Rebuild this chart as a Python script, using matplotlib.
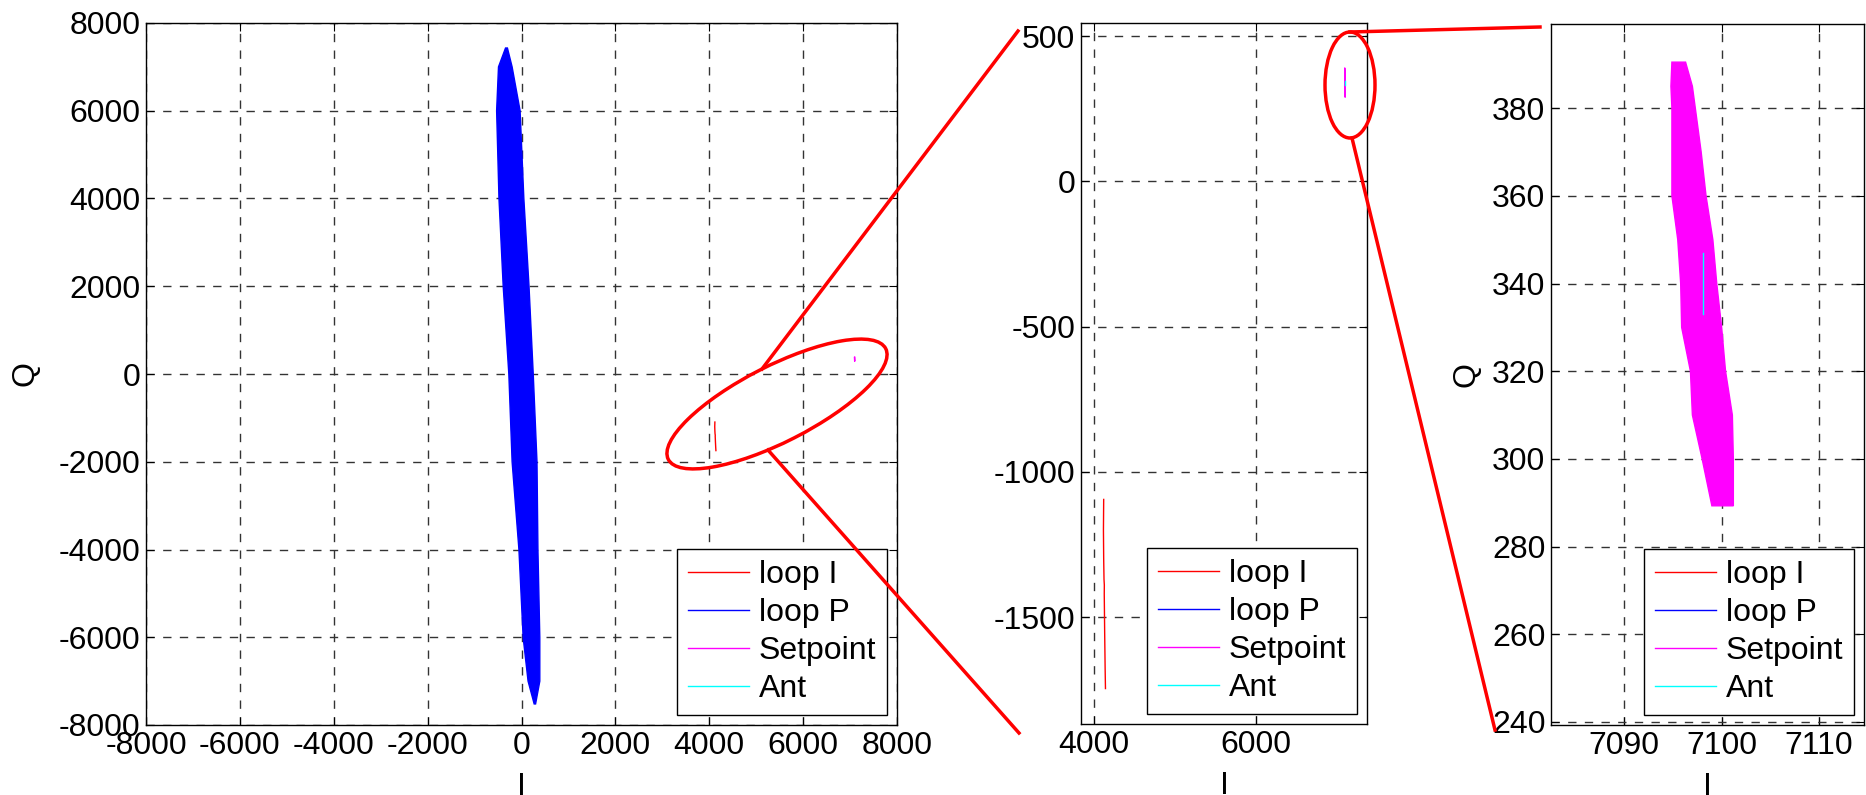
import matplotlib
matplotlib.use("Agg")
import matplotlib.pyplot as plt
from matplotlib.patches import Ellipse
from matplotlib.lines import Line2D

plt.rcParams['font.family'] = ['Liberation Sans', 'DejaVu Sans']
plt.rcParams['font.size'] = 23
plt.rcParams['axes.unicode_minus'] = False

# loop P cloud (blue) - outline
loopP_q = [7430, 7000, 6000, 4000, 2000, 0, -2000, -4000, -6000, -7000, -7520]
loopP_left = [-340, -490, -530, -480, -390, -270, -200, -55, 35, 140, 270]
loopP_right = [-300, -200, -30, 50, 160, 250, 330, 350, 390, 390, 300]

# Setpoint cloud (magenta) - outline
sp_q = [390.5, 385, 380, 370, 360, 350, 340, 330, 320, 310, 300, 289.3]
sp_left = [7094.9, 7094.8, 7094.9, 7094.9, 7094.9, 7095.5, 7095.8, 7095.9, 7096.8, 7097.0, 7098.0, 7099.0]
sp_right = [7096.3, 7097.0, 7097.3, 7097.9, 7098.4, 7099.1, 7099.5, 7100.0, 7100.4, 7101.1, 7101.2, 7101.2]

# loop I trace (red)
loopI_i = [4120, 4117, 4120, 4124, 4128, 4127, 4132, 4138, 4142]
loopI_q = [-1095, -1200, -1300, -1370, -1390, -1420, -1550, -1680, -1746]

# Ant (cyan)
ant_i = [7098.1, 7098.1]
ant_q = [333, 347]

names = ['loop I', 'loop P', 'Setpoint', 'Ant']
colors = ['red', 'blue', 'magenta', 'cyan']

W, H = 1866, 795
fig = plt.figure(figsize=(W / 100, H / 100), dpi=100)


def add_axes(l, r, t, b):
    return fig.add_axes([l / W, 1 - b / H, (r - l) / W, (b - t) / H])


def draw(ax):
    ax.fill(loopP_left + loopP_right[::-1], loopP_q + loopP_q[::-1],
            color='blue', lw=1)
    ax.fill(sp_left + sp_right[::-1], sp_q + sp_q[::-1], color='magenta', lw=1)
    ax.plot(loopI_i, loopI_q, color='red', lw=1)
    ax.plot(ant_i, ant_q, color='cyan', lw=1)
    ax.grid(True, linestyle=(0, (6, 6)), color='#333333', lw=1)
    ax.set_axisbelow(True)
    ax.tick_params(direction='in', top=True, right=True, length=6, pad=4)
    for s in ax.spines.values():
        s.set_linewidth(1)
    handles = [Line2D([], [], color=c, lw=1) for c in colors]
    leg = ax.legend(handles, names, loc='lower right', fancybox=False,
                    framealpha=1, edgecolor='black', borderaxespad=0.3,
                    borderpad=0.35, handlelength=1.9, handletextpad=0.3,
                    labelspacing=0.25)
    leg.get_frame().set_linewidth(1)
    ax.set_xlabel('I')
    ax.xaxis.set_label_coords(0.5, -0.067)


ax1 = add_axes(146, 897, 23, 725)
draw(ax1)
ax1.set_xlim(-8000, 8000)
ax1.set_ylim(-8000, 8000)
ax1.set_xticks(range(-8000, 8001, 2000))
ax1.set_yticks(range(-8000, 8001, 2000))
ax1.set_ylabel('Q')
ax1.yaxis.set_label_coords(-0.141, 0.5)

ax2 = add_axes(1081, 1367, 23, 724)
draw(ax2)
ax2.set_xlim(3840, 7370)
ax2.set_ylim(-1868, 545)
ax2.set_xticks([4000, 6000])
ax2.set_yticks([-1500, -1000, -500, 0, 500])

ax3 = add_axes(1551, 1864, 24, 725)
draw(ax3)
ax3.set_xlim(7082.5, 7114.6)
ax3.set_ylim(239.3, 399.2)
ax3.set_xticks([7090, 7100, 7110])
ax3.set_yticks(range(240, 381, 20))
ax3.set_ylabel('Q')
ax3.yaxis.set_label_coords(-0.222, 0.5)

# zoom call-outs (pixel positions in the figure)
tr = fig.dpi_scale_trans


def P(x, y):
    return x / 100, (H - y) / 100


fig.add_artist(Ellipse(P(777, 404), 2.44, 0.76, angle=27, fill=False,
                       edgecolor='red', lw=2.5, transform=tr))
fig.add_artist(Ellipse(P(1350, 85), 0.50, 1.06, fill=False,
                       edgecolor='red', lw=2.5, transform=tr))
for (xa, ya), (xb, yb) in [((762, 369), (1018, 31)), ((768, 450), (1019, 733)),
                           ((1350, 32), (1540, 27)), ((1352, 138), (1495, 730))]:
    (x0, y0), (x1, y1) = P(xa, ya), P(xb, yb)
    fig.add_artist(Line2D([x0, x1], [y0, y1], color='red', lw=2.5, transform=tr))

fig.savefig('out.png', dpi=100)
